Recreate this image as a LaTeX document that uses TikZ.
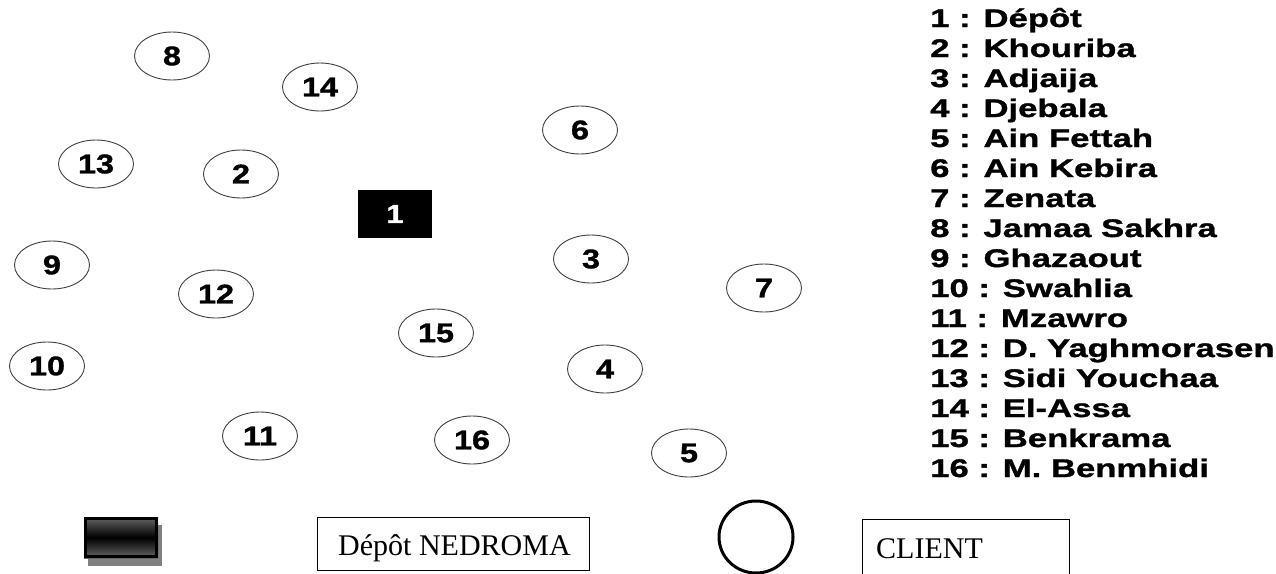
\documentclass[tikz,border=0pt]{standalone}
\usepackage{fontspec}
\setmainfont{Liberation Serif}
\newfontfamily\bubfont{Liberation Sans}[FakeStretch=1.2,FakeBold=1.2]
\newfontfamily\legfont{Liberation Sans}[FakeStretch=1.36,FakeBold=1.2]
\usetikzlibrary{shapes.geometric}
\begin{document}
\begin{tikzpicture}[x=1pt,y=-1pt,
  client/.style={ellipse,draw=black!75,line width=0.9pt,minimum width=75pt,minimum height=48pt,inner sep=0pt,
    font=\bubfont\bfseries\fontsize{27}{27}\selectfont},
  depot/.style={rectangle,fill=black,minimum width=74pt,minimum height=48pt,inner sep=0pt,text=white,
    font=\bubfont\bfseries\fontsize{26}{26}\selectfont},
  legtext/.style={anchor=base west,inner sep=0pt,font=\legfont\bfseries\fontsize{25.5}{30}\selectfont},
  keybox/.style={draw=black,line width=1.2pt,inner sep=0pt,anchor=north west,
    font=\fontsize{30}{30}\selectfont}
]
\useasboundingbox (0,0) rectangle (1276,573);
\fill[white] (0,0) rectangle (1276,573);

% map nodes
\node[depot] (n1) at (395,214) {1};
\node[client] (n2) at (241,174) {2};
\node[client] (n3) at (591,259) {3};
\node[client] (n4) at (605,369) {4};
\node[client] (n5) at (689,453) {5};
\node[client] (n6) at (580,130) {6};
\node[client] (n7) at (764,288) {7};
\node[client] (n8) at (172,56) {8};
\node[client] (n9) at (52,265) {9};
\node[client] (n10) at (47,366) {10};
\node[client] (n11) at (260,436) {11};
\node[client] (n12) at (216,294) {12};
\node[client] (n13) at (96,164) {13};
\node[client] (n14) at (320,87) {14};
\node[client] (n15) at (436,333) {15};
\node[client] (n16) at (472,440) {16};

% legend list
\node[legtext] (l1) at (930,27) {1 : Dépôt};
\node[legtext] (l2) at (930,57) {2 : Khouriba};
\node[legtext] (l3) at (930,87) {3 : Adjaija};
\node[legtext] (l4) at (930,117) {4 : Djebala};
\node[legtext] (l5) at (930,147) {5 : Ain Fettah};
\node[legtext] (l6) at (930,177) {6 : Ain Kebira};
\node[legtext] (l7) at (930,207) {7 : Zenata};
\node[legtext] (l8) at (930,237) {8 : Jamaa Sakhra};
\node[legtext] (l9) at (930,267) {9 : Ghazaout};
\node[legtext] (l10) at (930,297) {10 : Swahlia};
\node[legtext] (l11) at (930,327) {11 : Mzawro};
\node[legtext] (l12) at (930,357) {12 : D. Yaghmorasen};
\node[legtext] (l13) at (930,387) {13 : Sidi Youchaa};
\node[legtext] (l14) at (930,417) {14 : El-Assa};
\node[legtext] (l15) at (930,447) {15 : Benkrama};
\node[legtext] (l16) at (930,477) {16 : M. Benmhidi};

% key at bottom
\fill[black!50] (88,525) rectangle (162,566);
\shade[top color=black!60,bottom color=black!60,middle color=black] (84,517) rectangle (158,558);
\draw[line width=3pt] (85.5,518.5) rectangle (156.5,556.5);
\node[keybox,minimum width=272pt,minimum height=53pt] (kdepot) at (317,517) {};
\node[anchor=base west,inner sep=0pt,font=\fontsize{30}{30}\selectfont] (kdeptxt) at (338,555) {Dépôt NEDROMA};
\draw[line width=3pt] (756,537) ellipse (37pt and 36pt);
\node[keybox,minimum width=207pt,minimum height=56pt] (kclient) at (862,519) {};
\node[anchor=base west,inner sep=0pt,font=\fontsize{30}{30}\selectfont] (kclitxt) at (876,558) {CLIENT};
\end{tikzpicture}
\end{document}
